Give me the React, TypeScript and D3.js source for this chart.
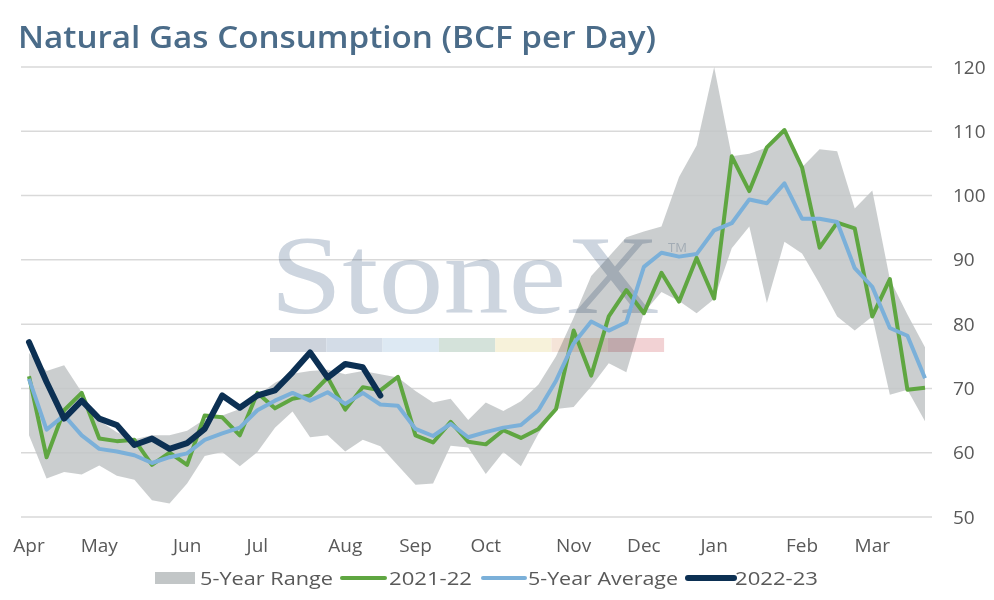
import * as d3 from "d3";

const WIDTH = 994;
const HEIGHT = 600;

// weekly categories, Apr -> Mar
const MONTHS = ["Apr", "May", "Jun", "Jul", "Aug", "Sep", "Oct", "Nov", "Dec", "Jan", "Feb", "Mar"];
const MONTH_WEEK = [0, 4, 9, 13, 18, 22, 26, 31, 35, 39, 44, 48];
const WEEK_COUNT = 52;
const Y_TICKS = [50, 60, 70, 80, 90, 100, 110, 120];

const RANGE_HIGH = [
  75.5, 72.7, 73.6, 69.4, 65.0, 63.2, 62.1, 62.7, 62.7, 63.4, 65.2, 65.8, 66.8,
  68.9, 70.9, 72.3, 72.7, 72.9, 72.2, 72.7, 72.2, 71.7, 69.6, 67.8, 68.4, 65.1,
  67.8, 66.5, 68.0, 70.6, 75.0, 81.0, 87.5, 90.5, 93.5, 94.4, 95.2, 102.9, 107.8,
  120.0, 106.1, 106.5, 107.5, 110.2, 104.4, 107.2, 106.9, 98.0, 100.8, 87.0, 81.5, 76.4,
];
const RANGE_LOW = [
  62.7, 56.0, 57.0, 56.6, 58.0, 56.4, 55.8, 52.6, 52.1, 55.2, 59.5, 60.1, 57.9,
  60.1, 63.9, 66.4, 62.4, 62.7, 60.2, 62.0, 61.0, 58.0, 55.0, 55.2, 61.1, 60.8,
  56.7, 60.1, 57.9, 63.0, 66.8, 67.1, 70.3, 73.9, 72.5, 81.8, 85.0, 83.6, 81.7,
  83.9, 91.8, 95.2, 83.3, 92.8, 91.0, 86.3, 81.2, 79.0, 81.2, 69.0, 69.8, 64.9,
];
const SERIES_2021 = [
  71.9, 59.3, 66.6, 69.3, 62.2, 61.8, 62.0, 58.1, 60.0, 58.1, 65.8, 65.5, 62.7,
  69.3, 66.9, 68.4, 68.9, 71.7, 66.7, 70.2, 69.7, 71.8, 62.7, 61.6, 64.8, 61.7,
  61.3, 63.5, 62.3, 63.7, 66.8, 79.0, 72.0, 81.2, 85.3, 81.7, 88.0, 83.5, 90.3,
  84.0, 106.1, 100.7, 107.5, 110.2, 104.4, 91.9, 95.8, 94.9, 81.2, 87.0, 69.8, 70.1,
];
const AVERAGE_5Y = [
  71.5, 63.6, 65.8, 62.7, 60.6, 60.2, 59.6, 58.4, 59.3, 59.9, 62.0, 63.0, 63.9,
  66.6, 68.1, 69.3, 68.1, 69.4, 67.6, 69.3, 67.5, 67.3, 63.7, 62.6, 64.5, 62.4,
  63.2, 63.9, 64.3, 66.6, 71.2, 77.0, 80.4, 79.0, 80.3, 88.9, 91.1, 90.5, 90.9,
  94.6, 95.7, 99.4, 98.8, 101.9, 96.4, 96.4, 95.9, 88.7, 85.8, 79.4, 78.2, 71.6,
];
const SERIES_2022 = [
  77.2, 71.0, 65.3, 68.1, 65.3, 64.3, 61.2, 62.2, 60.6, 61.5, 63.7, 68.9, 67.0,
  68.9, 69.7, 72.5, 75.6, 71.7, 73.8, 73.3, 68.9,
];

const GREEN = "#5fa641";
const BLUE = "#7bb0d9";
const NAVY = "#0c3053";
const BAND = "#c2c6c7";
const TEXT = "#595959";
const FONT = "'Open Sans', Lato, sans-serif";
const STRIP = ["#cdd3dc", "#d3dce7", "#dde9f3", "#d4e2da", "#f7f2da", "#f5e4d8", "#f2d2d4"];

export default function App() {
  const weeks = d3.range(WEEK_COUNT);
  const x = d3.scalePoint<number>().domain(weeks).range([29, 925]);
  const y = d3.scaleLinear().domain([50, 120]).range([517, 67]);

  const area = d3
    .area<number>()
    .x((i) => x(i)!)
    .y0((i) => y(RANGE_LOW[i]))
    .y1((i) => y(RANGE_HIGH[i]));

  const line = (vals: number[]) =>
    d3
      .line<number>()
      .x((_d, i) => x(i)!)
      .y((d) => y(d))(vals)!;

  const legend = [
    { label: "5-Year Range", kind: "rect", color: BAND, x0: 155, x1: 195, tx: 200, w: 133 },
    { label: "2021-22", kind: "line", color: GREEN, x0: 342, x1: 385, tx: 389, w: 83 },
    { label: "5-Year Average", kind: "line", color: BLUE, x0: 483, x1: 525, tx: 528, w: 150 },
    { label: "2022-23", kind: "line", color: NAVY, x0: 688, x1: 734, tx: 735, w: 83 },
  ];

  return (
    <svg
      width={WIDTH}
      height={HEIGHT}
      style={{ position: "absolute", left: 0, top: 0, background: "#fff" }}
      fontFamily={FONT}
    >
      <text
        x={18}
        y={48}
        fontSize={30}
        fontWeight={600}
        fill="#4b6c89"
        textLength={638}
        lengthAdjust="spacingAndGlyphs"
      >
        Natural Gas Consumption (BCF per Day)
      </text>

      {/* gridlines */}
      {Y_TICKS.map((t) => (
        <line key={t} x1={21} x2={932} y1={y(t)} y2={y(t)} stroke="#d9d9d9" strokeWidth={1.5} />
      ))}

      <path d={area(weeks)!} fill={BAND} opacity={0.85} />

      {/* watermark */}
      <g style={{ mixBlendMode: "multiply" }}>
        <text
          x={270}
          y={313}
          fontFamily="'Liberation Serif', 'DejaVu Serif', serif"
          fontSize={112}
          fill="#cdd5df"
          textLength={390}
          lengthAdjust="spacingAndGlyphs"
        >
          StoneX
        </text>
        <text x={668} y={252} fontSize={13} fill="#cdd5df">
          TM
        </text>
        {STRIP.map((c, i) => (
          <rect key={c} x={270 + i * 56.3} y={338} width={56.3} height={14} fill={c} />
        ))}
      </g>

      <path d={line(SERIES_2021)} fill="none" stroke={GREEN} strokeWidth={4} strokeLinejoin="round" />
      <path d={line(AVERAGE_5Y)} fill="none" stroke={BLUE} strokeWidth={4} strokeLinejoin="round" />
      <path d={line(SERIES_2022)} fill="none" stroke={NAVY} strokeWidth={6} strokeLinejoin="round" strokeLinecap="round" />

      {/* y axis on the right */}
      {Y_TICKS.map((t) => (
        <text key={t} x={953} y={y(t) + 6.5} fontSize={19} fill={TEXT}>
          {t}
        </text>
      ))}

      {/* month labels */}
      {MONTHS.map((m, i) => (
        <text key={m} x={x(MONTH_WEEK[i])} y={552} fontSize={19} fill={TEXT} textAnchor="middle">
          {m}
        </text>
      ))}

      {/* legend */}
      {legend.map((l) => (
        <g key={l.label}>
          {l.kind === "rect" ? (
            <rect x={l.x0} y={572} width={l.x1 - l.x0} height={12} fill={l.color} />
          ) : (
            <line
              x1={l.x0}
              x2={l.x1}
              y1={578}
              y2={578}
              stroke={l.color}
              strokeWidth={l.color === NAVY ? 6 : 4}
              strokeLinecap="round"
            />
          )}
          <text x={l.tx} y={584.5} fontSize={18} fill={TEXT} textLength={l.w} lengthAdjust="spacingAndGlyphs">
            {l.label}
          </text>
        </g>
      ))}
    </svg>
  );
}
